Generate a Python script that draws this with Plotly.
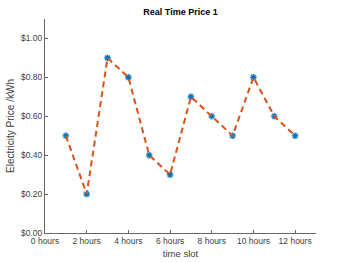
import plotly.graph_objects as go

hours = [1, 2, 3, 4, 5, 6, 7, 8, 9, 10, 11, 12]
price = [0.5, 0.2, 0.9, 0.8, 0.4, 0.3, 0.7, 0.6, 0.5, 0.8, 0.6, 0.5]
xtick_vals = [0, 2, 4, 6, 8, 10, 12]
xtick_text = ["0 hours", "2 hours", "4 hours", "6 hours", "8 hours", "10 hours", "12 hours"]
ytick_vals = [0, 0.2, 0.4, 0.6, 0.8, 1.0]
ytick_text = ["$0.00", "$0.20", "$0.40", "$0.60", "$0.80", "$1.00"]

FONT = "Liberation Sans, Arial"

fig = go.Figure()
fig.add_trace(go.Scatter(x=hours, y=price, mode="markers",
                         marker=dict(symbol="circle", size=7, color="rgba(0,114,189,0.3)",
                                     line=dict(width=0))))
fig.add_trace(go.Scatter(x=hours, y=price, mode="markers",
                         marker=dict(symbol="asterisk-open", size=5, color="#0072BD",
                                     line=dict(color="#0072BD", width=1.2))))
fig.add_trace(go.Scatter(x=hours, y=price, mode="lines",
                         line=dict(color="#D95319", width=2, dash="6px,4px")))

axis_common = dict(showgrid=False, zeroline=False, showline=True, linecolor="#666666",
                   linewidth=1, ticks="inside", ticklen=3, tickcolor="#666666",
                   automargin=False,
                   tickfont=dict(family=FONT, size=8.5, color="#404040"))

fig.update_xaxes(range=[0, 13], tickvals=xtick_vals, ticktext=xtick_text,
                 title=dict(text="time slot", standoff=5,
                            font=dict(family=FONT, size=9.5, color="#404040")),
                 **axis_common)
fig.update_yaxes(range=[0, 1.1], tickvals=ytick_vals, ticktext=ytick_text,
                 title=dict(text="Electricity Price /kWh", standoff=4,
                            font=dict(family=FONT, size=10, color="#404040")),
                 **axis_common)

fig.update_layout(
    width=349, height=262,
    margin=dict(l=45, r=33, t=19, b=29),
    showlegend=False,
    plot_bgcolor="white", paper_bgcolor="white",
    title=dict(text="<b>Real Time Price 1</b>", x=0.5, xanchor="center", xref="paper",
               y=0.955, yanchor="middle",
               font=dict(family=FONT, size=9, color="#000000")),
)

fig.write_html("out.html", config={"displayModeBar": False},
               post_script="document.body.style.margin='0px';document.body.style.padding='0px';")
